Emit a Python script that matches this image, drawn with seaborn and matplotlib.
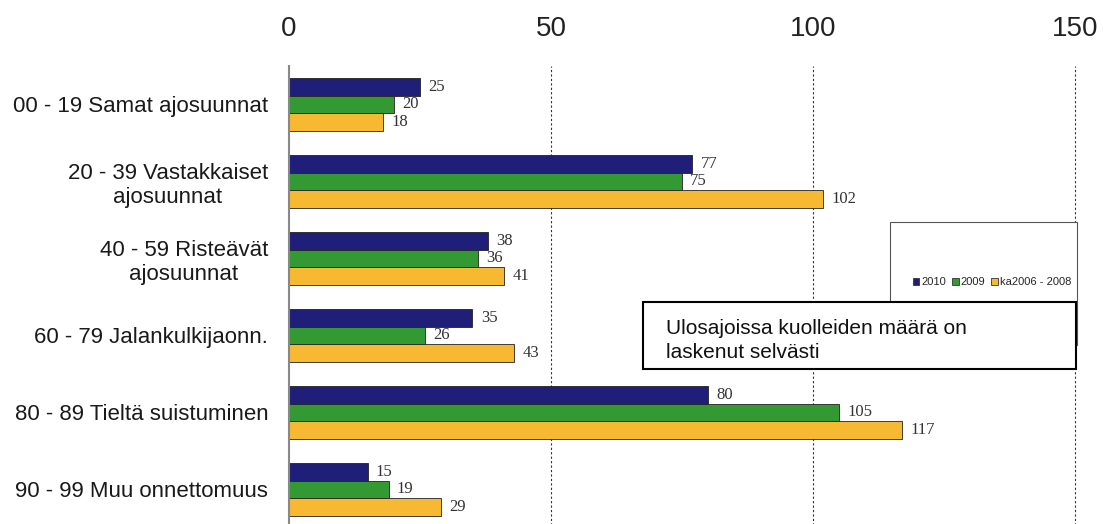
import matplotlib
matplotlib.use("Agg")
import matplotlib.pyplot as plt
import seaborn as sns
import pandas as pd
from matplotlib.patches import Rectangle, Patch

categories = ["00 - 19 Samat ajosuunnat", "20 - 39 Vastakkaiset\najosuunnat",
              "40 - 59 Risteävät\najosuunnat", "60 - 79 Jalankulkijaonn.",
              "80 - 89 Tieltä suistuminen", "90 - 99 Muu onnettomuus"]
series_names = ["2010", "2009", "ka2006 - 2008"]
v2010 = [25, 77, 38, 35, 80, 15]
v2009 = [20, 75, 36, 26, 105, 19]
vka = [18, 102, 41, 43, 117, 29]
xticks = [0, 50, 100, 150]
colors = ["#1F1F7A", "#339933", "#F7B931"]

rows = []
for name, vals in zip(series_names, [v2010, v2009, vka]):
    for c, v in zip(categories, vals):
        rows.append({"cat": c, "series": name, "value": v})
df = pd.DataFrame(rows)

sns.set_theme(style="white")
plt.rcParams["font.family"] = ["Liberation Sans", "DejaVu Sans"]

W, H = 1103, 524
fig = plt.figure(figsize=(W / 100, H / 100), dpi=100)
ax = fig.add_axes([289 / W, 1 - 528 / H, (1075 - 289) / W, (528 - 66) / H])

sns.barplot(data=df, y="cat", x="value", hue="series", hue_order=series_names,
            order=categories, palette=colors, orient="h", width=0.68,
            edgecolor="#222222", linewidth=0.6, saturation=1, ax=ax, legend=False)

ax.set_xlim(0, 150)
ax.set_ylim(len(categories) - 0.5, -0.5)
ax.set_xticks(xticks)
ax.xaxis.tick_top()
ax.tick_params(axis="x", length=0, pad=17, labelsize=20, labelcolor="#222222")
ax.tick_params(axis="y", labelsize=16, length=0, pad=15, labelcolor="#1a1a1a")
for lab in ax.get_yticklabels():
    lab.set_multialignment("center")
ax.set_xlabel("")
ax.set_ylabel("")

for x in [50, 100, 150]:
    ax.axvline(x, color="#333333", linestyle=(0, (2, 2)), linewidth=0.8, zorder=0,
               clip_on=False)
for s in ["top", "right", "bottom"]:
    ax.spines[s].set_visible(False)
ax.spines["left"].set_color("#888888")
ax.spines["left"].set_linewidth(1.5)

for cont in ax.containers:
    ax.bar_label(cont, padding=6, fontsize=12, color="#333333",
                 family=["Liberation Serif", "DejaVu Serif"])

# legend box
fig.patches.append(Rectangle((890 / W, 1 - 345 / H), (1077 - 890) / W, (345 - 222) / H,
                             transform=fig.transFigure, facecolor="white",
                             edgecolor="#555555", linewidth=0.8, zorder=5))
handles = [Patch(facecolor=c, edgecolor="#333333", linewidth=0.6) for c in colors]
leg = fig.legend(handles, series_names, loc="center right",
                 bbox_to_anchor=(1079 / W, 1 - 282 / H), ncol=3, frameon=False,
                 fontsize=8, handlelength=0.6, handleheight=0.6, handletextpad=0.2,
                 columnspacing=0.5, borderpad=0.2)
leg.set_zorder(6)

# annotation box
fig.patches.append(Rectangle((643 / W, 1 - 369 / H), (1076 - 643) / W, (369 - 302) / H,
                             transform=fig.transFigure, facecolor="white",
                             edgecolor="black", linewidth=1.5, zorder=7))
fig.text(666 / W, 1 - 328 / H, "Ulosajoissa kuolleiden määrä on", fontsize=15,
         va="center", ha="left", zorder=8, color="#111111")
fig.text(666 / W, 1 - 352 / H, "laskenut selvästi", fontsize=15,
         va="center", ha="left", zorder=8, color="#111111")

fig.savefig("out.png", dpi=100)
